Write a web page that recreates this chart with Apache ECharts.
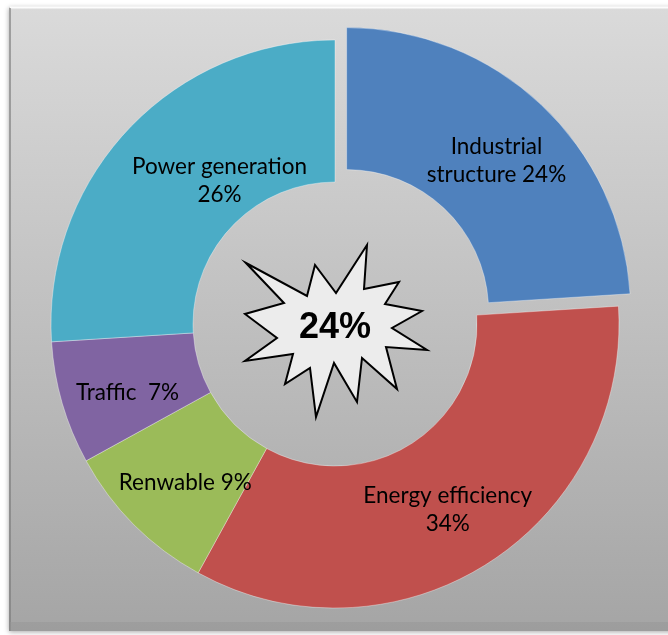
<!DOCTYPE html>
<html>
<head>
<meta charset="utf-8">
<title>Emission reduction contributions</title>
<script src="https://cdn.jsdelivr.net/npm/echarts@6/dist/echarts.min.js"></script>
<style>
  html, body { margin: 0; padding: 0; background: #ffffff; }
  #chart { width: 668px; height: 635px; }
</style>
</head>
<body>
<div id="chart"></div>
<script>
// Contribution shares (percent) by measure
const categories = ['Industrial structure', 'Energy efficiency', 'Renwable', 'Traffic', 'Power generation'];
const values = [24, 34, 9, 7, 26];
// How each label joins its name and value
const labelNames = ['Industrial\nstructure', 'Energy efficiency', 'Renwable', 'Traffic', 'Power generation'];
const labelBreaks = [' ', '\n', ' ', '  ', '\n'];
const colors = ['#4F81BD', '#C0504D', '#9BBB59', '#8064A2', '#4BACC6'];
// Slice that is pulled out of the ring and highlighted in the centre
const highlightIndex = 0;

const cx = 335, cy = 324;

// Starburst outline, relative to the ring centre
const burst = [
  [246, 263], [307, 296], [315, 265], [336, 293], [367, 245], [364, 289],
  [399, 282], [385, 304], [422, 311], [392, 328], [427, 350], [386, 347],
  [397, 389], [362, 358], [357, 402], [334, 363], [316, 417], [310, 368],
  [285, 384], [293, 354], [245, 361], [277, 338], [245, 314], [284, 303]
].map(p => [p[0] - cx, p[1] - cy]);

const chart = echarts.init(document.getElementById('chart'), null, { renderer: 'canvas' });

const seriesData = categories.map((name, i) => ({
  name: name,
  value: values[i],
  selected: i === highlightIndex,
  itemStyle: { color: colors[i] }
}));

chart.setOption({
  animation: false,
  graphic: [
    {
      type: 'rect',
      z: -10,
      shape: { x: 9, y: 7, width: 680, height: 624 },
      style: {
        fill: new echarts.graphic.LinearGradient(0, 0, 0, 1, [
          { offset: 0, color: '#dadada' },
          { offset: 1, color: '#a5a5a5' }
        ]),
        shadowColor: 'rgba(0,0,0,0.35)',
        shadowBlur: 5,
        shadowOffsetX: 0,
        shadowOffsetY: 1
      },
      silent: true
    },
    {
      type: 'line', z: -9, silent: true,
      shape: { x1: 10, y1: 7.5, x2: 668, y2: 7.5 },
      style: { stroke: 'rgba(255,255,255,0.9)', lineWidth: 2 }
    },
    {
      type: 'line', z: -9, silent: true,
      shape: { x1: 10, y1: 8, x2: 10, y2: 631 },
      style: { stroke: 'rgba(120,120,120,0.6)', lineWidth: 2 }
    },
    {
      type: 'rect', z: -9, silent: true,
      shape: { x: 10, y: 622, width: 660, height: 9 },
      style: { fill: 'rgba(150,150,150,0.5)' }
    },
    {
      type: 'group',
      x: cx, y: cy,
      z: 100,
      children: [
        {
          type: 'polygon',
          shape: { points: burst },
          style: { fill: '#ececec', stroke: '#000000', lineWidth: 2, lineJoin: 'miter' }
        },
        {
          type: 'text',
          x: 0, y: 4,
          style: {
            text: values[highlightIndex] + '%',
            fill: '#000000',
            font: 'bold 36px "Liberation Sans", Arial, sans-serif',
            align: 'center',
            verticalAlign: 'middle'
          }
        }
      ]
    }
  ],
  series: [{
    type: 'pie',
    center: [cx, cy],
    radius: [142, 284],
    startAngle: 90,
    clockwise: true,
    selectedMode: 'single',
    selectedOffset: 17,
    avoidLabelOverlap: false,
    emphasis: { disabled: true },
    itemStyle: { borderColor: 'rgba(255,255,255,0.35)', borderWidth: 1 },
    label: {
      show: true,
      position: 'inside',
      color: '#000000',
      fontFamily: 'Lato, "Open Sans", sans-serif',
      fontSize: 22.5,
      lineHeight: 28,
      align: 'center',
      formatter: p => labelNames[p.dataIndex] + labelBreaks[p.dataIndex] + p.value + '%'
    },
    labelLine: { show: false },
    labelLayout: function (params) {
      // the power generation label sits nearer the ring's vertical split
      if (params.dataIndex === 4) {
        return { dx: 42, dy: 5 };
      }
      if (params.dataIndex === 3) {
        return { dy: 8 };
      }
      if (params.dataIndex === 0) {
        return { dx: 2, dy: 7 };
      }
      if (params.dataIndex === 2) {
        return { dx: 3, dy: 6 };
      }
      return { dx: -3, dy: 3 };
    },
    data: seriesData
  }]
});
</script>
</body>
</html>
